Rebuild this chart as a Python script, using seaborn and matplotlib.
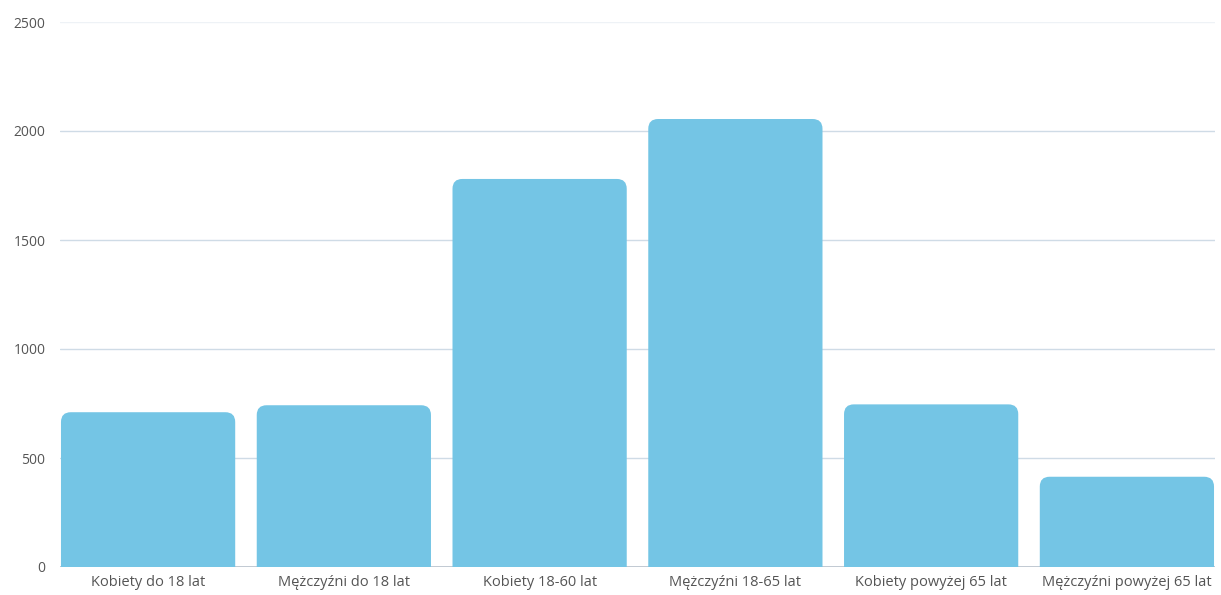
import matplotlib
matplotlib.use('Agg')
import matplotlib.pyplot as plt
from matplotlib.patches import FancyBboxPatch
import seaborn as sns
import pandas as pd

# dane
kategorie = ['Kobiety do 18 lat', 'Mężczyźni do 18 lat', 'Kobiety 18-60 lat',
             'Mężczyźni 18-65 lat', 'Kobiety powyżej 65 lat', 'Mężczyźni powyżej 65 lat']
wartosci = [710, 742, 1780, 2055, 746, 414]
y_ticks = [0, 500, 1000, 1500, 2000, 2500]

BAR_COLOR = '#74c5e5'
GRID_COLOR = '#cfdbe6'
TEXT_COLOR = '#555555'

sns.set_style('white')
plt.rcParams['font.family'] = ['Open Sans', 'DejaVu Sans']

df = pd.DataFrame({'kategoria': kategorie, 'wartosc': wartosci})

fig = plt.figure(figsize=(12.21, 5.95), dpi=100)
ax = fig.add_axes([60 / 1221, 28 / 595, 1155 / 1221, 545 / 595])

sns.barplot(data=df, x='kategoria', y='wartosc', color=BAR_COLOR, saturation=1,
            width=0.89, ax=ax, zorder=2)

# zaokrąglone rogi słupków
bbox = ax.get_window_extent()
px_per_x = bbox.width / 5.9
px_per_y = bbox.height / 2500
aspect = px_per_x / px_per_y
for bar in list(ax.patches):
    x, w, h = bar.get_x(), bar.get_width(), bar.get_height()
    r = 0.05
    p = FancyBboxPatch((x + r, -200 + r * aspect), w - 2 * r, h + 200 - 2 * r * aspect,
                       boxstyle=f'round,pad={r},rounding_size={r}',
                       mutation_aspect=aspect, facecolor=BAR_COLOR, edgecolor='none',
                       zorder=2, clip_on=True)
    bar.remove()
    ax.add_patch(p)

ax.set_xlim(-0.45, 5.45)
ax.set_ylim(0, 2500)
ax.set_yticks(y_ticks)
ax.set_yticklabels([str(v) for v in y_ticks])
ax.yaxis.grid(True, color=GRID_COLOR, linewidth=1, zorder=0)
ax.get_ygridlines()[-1].set_alpha(0.35)
ax.axhline(0, color='#b8c2cc', linewidth=1.2, zorder=1)
ax.set_xlabel('')
ax.set_ylabel('')
for s in ax.spines.values():
    s.set_visible(False)
ax.tick_params(axis='both', length=0, labelcolor=TEXT_COLOR)
ax.tick_params(axis='y', pad=10.5, labelsize=10)
ax.tick_params(axis='x', pad=6, labelsize=10.5)

fig.savefig('out.png', dpi=100, facecolor='white')
